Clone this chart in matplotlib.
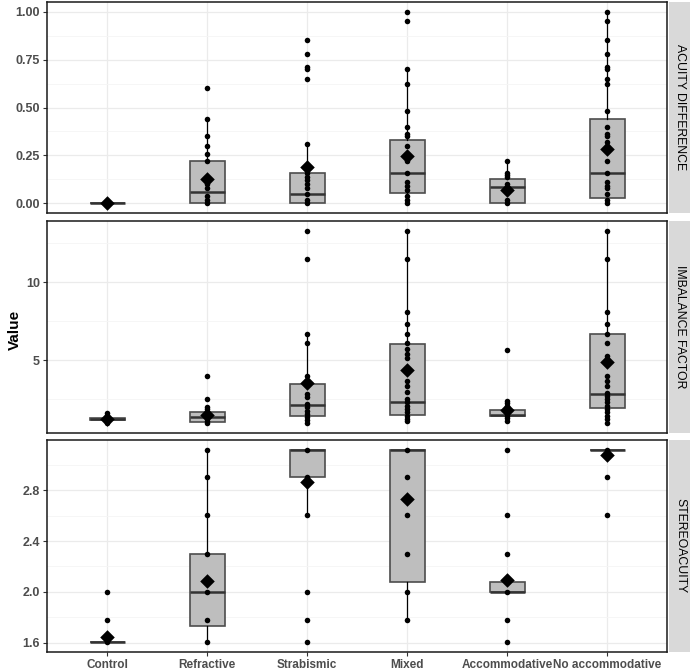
import matplotlib.pyplot as plt
from matplotlib.ticker import FixedLocator

plt.rcParams["font.family"] = ["Liberation Sans", "DejaVu Sans"]

groups = ["Control", "Refractive", "Strabismic", "Mixed", "Accommodative", "No accommodative"]
facets = ["ACUITY DIFFERENCE", "IMBALANCE FACTOR", "STEREOACUITY"]

# acuity difference
acuity_points = [
    [0.0],
    [0.60, 0.44, 0.35, 0.30, 0.26, 0.22, 0.10, 0.08, 0.04, 0.02, 0.0],
    [0.85, 0.78, 0.71, 0.70, 0.65, 0.31, 0.16, 0.14, 0.12, 0.10, 0.08, 0.05, 0.02, 0.0],
    [1.0, 0.95, 0.70, 0.62, 0.48, 0.40, 0.36, 0.35, 0.30, 0.25, 0.22, 0.16, 0.11, 0.09,
     0.07, 0.04, 0.02, 0.0],
    [0.22, 0.16, 0.15, 0.14, 0.10, 0.08, 0.02, 0.0],
    [1.0, 0.95, 0.85, 0.78, 0.71, 0.70, 0.65, 0.62, 0.48, 0.40, 0.36, 0.35, 0.32, 0.30,
     0.22, 0.16, 0.11, 0.09, 0.08, 0.05, 0.02, 0.0],
]
acuity_whislo = [0.0, 0.0, 0.0, 0.0, 0.0, 0.0]
acuity_q1 = [0.0, 0.0, 0.0, 0.053, 0.0, 0.029]
acuity_med = [0.0, 0.062, 0.047, 0.157, 0.083, 0.157]
acuity_q3 = [0.0, 0.219, 0.157, 0.331, 0.128, 0.438]
acuity_whishi = [0.0, 0.443, 0.309, 0.70, 0.221, 1.0]
acuity_mean = [0.0, 0.128, 0.190, 0.248, 0.072, 0.283]

# imbalance factor
imbalance_points = [
    [1.65, 1.44, 1.23, 1.14, 0.97],
    [3.98, 2.56, 2.03, 1.86, 1.65, 1.50, 1.31, 1.14, 0.97],
    [13.3, 11.5, 6.69, 6.14, 3.98, 2.84, 2.67, 2.20, 1.99, 1.78, 1.57, 1.36, 1.19, 0.97],
    [13.3, 11.5, 8.07, 7.35, 6.69, 6.14, 5.70, 5.38, 5.13, 3.69, 3.37, 2.99, 2.52, 2.31,
     2.10, 1.89, 1.67, 1.46, 1.25, 1.10],
    [5.68, 2.39, 2.27, 2.08, 1.78, 1.46, 1.31, 1.14],
    [13.3, 11.5, 8.07, 7.35, 6.69, 6.14, 5.28, 4.0, 3.69, 3.37, 2.94, 2.73, 2.52, 2.31,
     2.10, 1.89, 1.67, 1.46, 1.25, 0.97],
]
imbalance_whislo = [1.17, 0.97, 0.97, 1.10, 1.14, 0.97]
imbalance_q1 = [1.17, 1.08, 1.44, 1.53, 1.42, 1.93]
imbalance_med = [1.23, 1.40, 2.12, 2.35, 1.50, 2.86]
imbalance_q3 = [1.29, 1.67, 3.52, 6.02, 1.84, 6.69]
imbalance_whishi = [1.29, 2.03, 6.69, 13.3, 2.39, 13.3]
imbalance_mean = [1.23, 1.50, 3.54, 4.39, 1.84, 4.89]

# stereoacuity (log arcsec)
stereo_points = [
    [2.0, 1.778, 1.602],
    [3.12, 2.903, 2.602, 2.301, 2.0, 1.778, 1.602],
    [3.12, 2.903, 2.602, 2.0, 1.778, 1.602],
    [3.12, 2.903, 2.602, 2.301, 2.0, 1.778],
    [3.12, 2.602, 2.301, 2.0, 1.778, 1.602],
    [3.12, 2.903, 2.602],
]
stereo_whislo = [1.602, 1.602, 2.602, 1.778, 2.0, 3.12]
stereo_q1 = [1.602, 1.733, 2.903, 2.081, 2.0, 3.12]
stereo_med = [1.602, 2.0, 3.12, 3.12, 2.0, 3.12]
stereo_q3 = [1.602, 2.301, 3.12, 3.12, 2.078, 3.12]
stereo_whishi = [1.602, 3.12, 3.12, 3.12, 2.078, 3.12]
stereo_mean = [1.647, 2.084, 2.863, 2.732, 2.094, 3.077]

acuity_ticks = [0.0, 0.25, 0.5, 0.75, 1.0]
imbalance_ticks = [5, 10]
stereo_ticks = [1.6, 2.0, 2.4, 2.8]

panels = [
    (acuity_points, acuity_whislo, acuity_q1, acuity_med, acuity_q3, acuity_whishi,
     acuity_mean, acuity_ticks, "{:.2f}"),
    (imbalance_points, imbalance_whislo, imbalance_q1, imbalance_med, imbalance_q3,
     imbalance_whishi, imbalance_mean, imbalance_ticks, "{:d}"),
    (stereo_points, stereo_whislo, stereo_q1, stereo_med, stereo_q3, stereo_whishi,
     stereo_mean, stereo_ticks, "{:.1f}"),
]

W, H = 690, 672
fig = plt.figure(figsize=(W / 100, H / 100), dpi=100)
left, right = 47, 667
rows = [(2, 213), (221, 433), (440, 652)]
grid_col = "#ebebeb"
xs = list(range(1, len(groups) + 1))

for (top, bottom), facet, panel in zip(rows, facets, panels):
    pts, wlo, q1, med, q3, whi, mean, ticks, fmt = panel
    ax = fig.add_axes([left / W, 1 - bottom / H, (right - left) / W, (bottom - top) / H])

    stats = [dict(whislo=a, q1=b, med=c, q3=d, whishi=e) for a, b, c, d, e in
             zip(wlo, q1, med, q3, whi)]
    ax.bxp(stats, positions=xs, widths=0.35, showfliers=False, showcaps=False,
           patch_artist=True,
           boxprops=dict(facecolor="#bebebe", edgecolor="#4d4d4d", linewidth=1.2),
           medianprops=dict(color="#333333", linewidth=1.8),
           whiskerprops=dict(color="black", linewidth=0.9), zorder=2)
    for x, vals in zip(xs, pts):
        ax.scatter([x] * len(vals), vals, s=16, color="black", zorder=3, linewidths=0)
    ax.scatter(xs, mean, marker="D", s=55, color="black", zorder=4, linewidths=0)

    allv = [v for vals in pts for v in vals]
    lo, hi = min(allv), max(allv)
    pad = 0.05 * (hi - lo)
    ax.set_ylim(lo - pad, hi + pad)
    ax.set_xlim(0.4, len(groups) + 0.6)

    ax.set_yticks(ticks)
    ax.set_yticklabels([fmt.format(t) for t in ticks])
    minors = [(a + b) / 2 for a, b in zip(ticks[:-1], ticks[1:])]
    step = ticks[1] - ticks[0]
    minors = [ticks[0] - step / 2] + minors + [ticks[-1] + step / 2]
    ax.yaxis.set_minor_locator(FixedLocator(minors))
    ax.tick_params(axis="y", which="minor", length=0)
    ax.grid(True, which="major", color=grid_col, linewidth=0.9, zorder=0)
    ax.grid(True, which="minor", axis="y", color="#f5f5f5", linewidth=0.6, zorder=0)
    ax.set_axisbelow(True)
    ax.tick_params(axis="both", which="major", length=3, width=0.8, color="#333333",
                   labelsize=9, labelcolor="#4d4d4d", pad=2)
    for lab in ax.get_yticklabels():
        lab.set_fontweight("bold")
    ax.set_xticks(xs)
    if bottom == rows[-1][1]:
        ax.set_xticklabels(groups, fontweight="bold", fontsize=8.5)
    else:
        ax.set_xticklabels([])
        ax.tick_params(axis="x", length=0)
    for sp in ax.spines.values():
        sp.set_color("#1a1a1a")
        sp.set_linewidth(1.1)

    sax = fig.add_axes([669 / W, 1 - bottom / H, 22 / W, (bottom - top) / H])
    sax.set_facecolor("#d9d9d9")
    sax.set_xticks([])
    sax.set_yticks([])
    for sp in sax.spines.values():
        sp.set_visible(False)
    sax.text(0.5, 0.5, facet, rotation=270, ha="center", va="center", fontsize=8.8,
             color="black", transform=sax.transAxes)

fig.text(15 / W, 1 - 330 / H, "Value", rotation=90, ha="center", va="center",
         fontsize=11, fontweight="bold")

fig.savefig("out.png", dpi=100)
